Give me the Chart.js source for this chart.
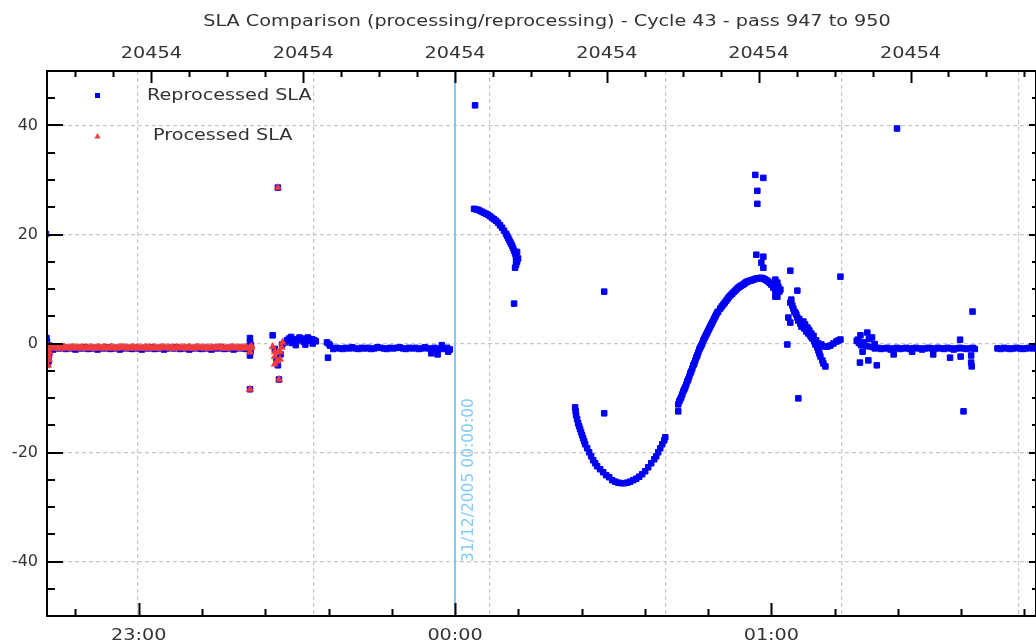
<!DOCTYPE html>
<html>
<head>
<meta charset="utf-8">
<script src="https://cdn.jsdelivr.net/npm/chart.js@4.4.1/dist/chart.umd.min.js"></script>
<style>
html,body{margin:0;padding:0;background:#fff;overflow:hidden}
canvas{display:block}
</style>
</head>
<body>
<canvas id="c" width="1036" height="644"></canvas>
<script>
// ---------- axis definitions (minutes relative to 31/12/2005 00:00) ----------
const X_MIN = -77.4, X_MAX = 110.2;
const Y_MIN = -50, Y_MAX = 50;
const bottomTickMinutes = [-60, 0, 60];
const bottomTickLabels = ['23:00', '00:00', '01:00'];
const bottomMinorTicks = [-72, -48, -36, -24, -12, 12, 24, 36, 48, 72, 84, 96, 108];
const topTickMinutes = [-57.6, -28.8, 0, 28.8, 57.6, 86.4];
const topTickLabels = ['20454', '20454', '20454', '20454', '20454', '20454'];
const topMinorTicks = [-72, -64.8, -50.4, -43.2, -36, -21.6, -14.4, -7.2, 7.2, 14.4, 21.6, 36, 43.2, 50.4, 64.8, 72, 79.2, 93.6, 100.8, 108];
const gridMinutes = [-60.2, -26.8, 6.6, 39.9, 73.3, 106.9];
const yTickValues = [-40, -20, 0, 20, 40];
const yMinorTicks = [-45, -35, -30, -25, -15, -10, -5, 5, 10, 15, 25, 30, 35, 45];
const markerTime = 0;
const markerLabel = '31/12/2005 00:00:00';
const chartTitle = 'SLA Comparison (processing/reprocessing) - Cycle 43 - pass 947 to 950';

// ---------- data: segment A (both series) ----------
const timeA = [-76.8, -76.2, -75.6, -75.0, -74.4, -73.8, -73.2, -72.6, -72.0, -71.4, -70.8, -70.2, -69.6, -69.0, -68.4, -67.8, -67.2, -66.6, -66.0, -65.4, -64.8, -64.2, -63.6, -63.0, -62.4, -61.8, -61.2, -60.6, -60.0, -59.4, -58.8, -58.2, -57.6, -57.0, -56.4, -55.8, -55.2, -54.6, -54.0, -53.4, -52.8, -52.2, -51.6, -51.0, -50.4, -49.8, -49.2, -48.6, -48.0, -47.4, -46.8, -46.2, -45.6, -45.0, -44.4, -43.8, -43.2, -42.6, -42.0, -41.4, -40.8, -40.2, -39.6, -39.0];
const procA = [-0.8, -0.7, -0.9, -0.8, -0.7, -0.8, -0.9, -0.7, -0.8, -0.8,
  -0.7, -0.9, -0.8, -0.7, -0.8, -0.8, -0.9, -0.7, -0.8, -0.7,
  -0.8, -0.9, -0.8, -0.7, -0.8, -0.8, -0.7, -0.9, -0.8, -0.8,
  -0.7, -0.8, -0.9, -0.7, -0.8, -0.8, -0.7, -0.8, -0.9, -0.8,
  -0.7, -0.8, -0.8, -0.9, -0.7, -0.8, -0.8, -0.7, -0.8, -0.9,
  -0.8, -0.7, -0.8, -0.8, -0.7, -0.9, -0.8, -0.8, -0.7, -0.8,
  -0.9, -0.8, -0.7, -0.8];
const timeA2 = [-76.5, -75.9, -75.3, -74.7, -74.1, -73.5, -72.9, -72.3, -71.7, -71.1, -70.5, -69.9, -69.3, -68.7, -68.1, -67.5, -66.9, -66.3, -65.7, -65.1, -64.5, -63.9, -63.3, -62.7, -62.1, -61.5, -60.9, -60.3, -59.7, -59.1, -58.5, -57.9, -57.3, -56.7, -56.1, -55.5, -54.9, -54.3, -53.7, -53.1, -52.5, -51.9, -51.3, -50.7, -50.1, -49.5, -48.9, -48.3, -47.7, -47.1, -46.5, -45.9, -45.3, -44.7, -44.1, -43.5, -42.9, -42.3, -41.7, -41.1, -40.5, -39.9, -39.3, -38.7];
const procA2 = [-0.7, -0.8, -0.8, -0.9, -0.7, -0.8, -0.8, -0.7, -0.9, -0.8,
  -0.8, -0.7, -0.8, -0.9, -0.8, -0.7, -0.8, -0.8, -0.9, -0.7,
  -0.8, -0.8, -0.7, -0.8, -0.9, -0.8, -0.8, -0.7, -0.8, -0.9,
  -0.8, -0.7, -0.8, -0.8, -0.9, -0.7, -0.8, -0.8, -0.7, -0.9,
  -0.8, -0.8, -0.7, -0.8, -0.8, -0.9, -0.7, -0.8, -0.8, -0.7,
  -0.9, -0.8, -0.8, -0.7, -0.8, -0.8, -0.9, -0.7, -0.8, -0.8,
  -0.7, -0.8, -0.9, -0.8];
const reprocA = [-0.9, -1.1, -0.8, -0.9, -0.7, -1.0, -0.8, -0.9, -1.1, -0.8,
  -0.9, -0.7, -1.0, -0.9, -0.8, -1.1, -0.8, -0.9, -0.7, -1.0,
  -0.9, -0.8, -1.1, -0.9, -0.8, -0.9, -1.0, -0.8, -0.9, -1.1,
  -0.8, -0.9, -0.7, -1.0, -0.9, -0.8, -1.1, -0.9, -0.8, -0.9,
  -0.7, -1.0, -0.9, -0.8, -1.1, -0.9, -0.8, -0.9, -1.0, -0.8,
  -0.9, -1.1, -0.8, -0.9, -0.7, -1.0, -0.9, -0.8, -1.1, -0.9,
  -0.8, -0.9, -1.0, -0.8];

// processed SLA: scattered points
const procExtraTime = [-77.6, -77.3, -77.2, -77.1, -77.0, -77.2, -76.9, -38.9, -38.7, -38.6, -38.9, -34.6, -34.2, -34.2, -33.8, -34.2, -33.2, -33.2, -32.9, -32.7, -33.6, -33.6, -33.4];
const procExtraSLA = [20.1, -0.3, -1.2, -2.2, -3.0, -4.0, -1.6, -1.6, -0.8, -0.5, -8.4, -0.6, -1.5, -2.4, -3.3, -3.8, -2.9, -1.5, -0.7, 0.2, -1.6, 28.6, -6.6];

// reprocessed SLA: scattered points before the gap
const reprocScatterTime = [-77.6, -77.5, -77.4, -77.3, -77.2, -77.1, -77.0, -76.9, -77.3, -38.9, -38.9, -38.8, -38.9, -38.7, -38.9, -34.6, -34.2, -33.9, -33.6, -33.4, -33.6, -33.1, -32.8];
const reprocScatterSLA = [20.1, 1.0, 0.3, -1.5, -2.6, -3.3, -2.0, -0.4, -3.8, 1.0, 0.2, -1.5, -2.2, -0.3, -8.4, 1.5, -1.0, -2.8, 28.6, -6.6, -4.0, -2.0, -0.2];

// segment B
const timeB = [-32.3, -31.9, -31.5, -31.1, -30.7, -30.3, -29.9, -29.5, -29.1, -28.7, -28.3, -27.9, -27.5, -27.1, -26.7, -26.4, -30.2, -28.4, -27.0, -31.0];
const reprocB = [0.2, 0.6, 0.9, 1.2, 0.7, 0.4, 0.8, 1.1, 0.6, 0.3, 0.9, 1.1, 0.5, 0.8, 0.6, 0.4, -0.3, -0.2, 0.0, 0.1];

// segment C
const timeC = [-24.3, -23.7, -23.1, -22.5, -21.9, -21.3, -20.7, -20.1, -19.5, -18.9, -18.3, -17.7, -17.1, -16.5, -15.9, -15.3, -14.7, -14.1, -13.5, -12.9, -12.3, -11.7, -11.1, -10.5, -9.9, -9.3, -8.7, -8.1, -7.5, -6.9, -6.3, -5.7, -5.1, -4.5, -3.9, -3.3, -2.7, -2.1, -1.5, -1.0, -24.1, -23.9, -4.5, -3.3, -1.3, -2.5];
const reprocC = [0.2, -0.4, -1.0, -0.8, -0.9, -1.0, -0.8, -0.9, -0.7, -0.9,
  -1.0, -0.8, -0.9, -0.8, -1.0, -0.9, -0.7, -0.8, -0.9, -1.0,
  -0.8, -0.9, -0.8, -0.7, -0.9, -1.0, -0.8, -0.9, -0.8, -1.0,
  -0.9, -0.7, -0.9, -1.1, -0.8, -1.2, -0.9, -1.0, -0.8, -1.1,
  -2.6, -0.1, -1.8, -2.0, -1.5, -0.3];

// segment D (descending arc after 00:00)
const timeD = [3.61, 3.99, 4.37, 4.75, 5.13, 5.51, 5.89, 6.27, 6.65, 7.02, 7.40, 7.78, 8.16, 8.54, 8.92, 9.30, 9.68, 9.87, 10.06, 10.25, 10.44, 10.63, 10.82, 11.01, 11.20, 11.39, 11.58, 11.58, 11.77, 11.58, 11.39, 11.77, 11.96];
const reprocD = [24.71, 24.62, 24.53, 24.35, 24.16, 23.98, 23.80, 23.61, 23.34, 23.06, 22.79, 22.52, 22.15, 21.69, 21.24, 20.69, 20.14, 19.77, 19.40, 19.04, 18.67, 18.31, 17.94, 17.48, 17.03, 16.48, 15.93, 15.38, 15.01, 14.46, 13.91, 16.8, 15.6];

// segment E (trough)
const timeE = [22.78, 22.88, 22.97, 23.16, 23.35, 23.54, 23.73, 23.92, 24.11, 24.30, 24.49, 24.68, 25.06, 25.44, 25.82, 26.20, 26.58, 26.96, 27.53, 28.10, 28.67, 29.24, 29.81, 30.38, 30.95, 31.52, 32.09, 32.66, 33.23, 33.80, 34.37, 34.93, 35.50, 36.07, 36.64, 37.21, 37.78, 38.16, 38.54, 38.92, 39.30, 39.68, 39.87];
const reprocE = [-11.72, -12.45, -13.18, -13.91, -14.65, -15.19, -15.74, -16.29, -16.84, -17.39, -17.94, -18.49, -19.22, -19.95, -20.69, -21.42, -21.97, -22.52, -23.07, -23.62, -24.16, -24.53, -25.08, -25.35, -25.54, -25.63, -25.63, -25.54, -25.35, -25.08, -24.81, -24.44, -23.98, -23.43, -22.70, -21.97, -21.24, -20.69, -19.95, -19.22, -18.49, -17.76, -17.21];

// segment F (rise and fall)
const timeF = [42.34, 42.34, 42.53, 42.72, 42.91, 43.10, 43.29, 43.48, 43.67, 43.86, 44.05, 44.24, 44.43, 44.62, 44.81, 45.00, 45.19, 45.38, 45.57, 45.76, 45.95, 46.14, 46.33, 46.52, 46.71, 46.90, 47.09, 47.28, 47.47, 47.66, 47.85, 48.03, 48.22, 48.41, 48.60, 48.79, 48.98, 49.17, 49.36, 49.55, 49.74, 49.93, 50.31, 50.60, 50.88, 51.16, 51.45, 51.73, 52.02, 52.30, 52.59, 52.87, 53.16, 53.44, 53.73, 54.00, 54.30, 54.60, 54.87, 55.15, 55.44, 55.70, 56.01, 56.30, 56.58, 56.87, 57.15, 57.44, 57.72, 58.00, 58.29, 58.57, 58.86, 59.15, 59.43, 59.72, 60.00, 60.38, 60.76, 60.95, 61.14, 60.76, 61.14, 61.33, 61.52, 61.71, 60.76,
  63.60, 63.79, 63.98, 64.17, 64.36, 64.55, 64.74, 64.93, 65.12, 65.30, 65.50, 65.70, 65.88, 66.07, 66.26, 66.40, 66.64, 66.83, 67.00, 67.02, 67.21, 67.40, 67.59, 67.60, 67.78, 68.00, 68.16, 68.35, 68.50, 68.73, 68.92, 69.11, 69.30, 69.68, 69.87, 70.25, 68.92, 69.49, 70.06, 70.63, 71.20, 71.77, 72.34, 72.72, 73.10];
const reprocF = [-12.45, -11.17, -10.62, -10.25, -9.89, -9.34, -8.79, -8.42, -8.05, -7.51, -6.96, -6.59, -6.04, -5.49, -5.13, -4.58, -4.03, -3.66, -3.11, -2.56, -2.20, -1.65, -1.10, -0.73, -0.37, 0.00, 0.55, 0.92, 1.28, 1.65, 2.01, 2.38, 2.75, 3.11, 3.48, 3.84, 4.21, 4.58, 4.94, 5.31, 5.68, 5.86, 6.41, 6.80, 7.14, 7.50, 7.87, 8.25, 8.60, 8.90, 9.15, 9.45, 9.70, 10.00, 10.25, 10.45, 10.62, 10.80, 10.98, 11.20, 11.35, 11.45, 11.53, 11.62, 11.72, 11.82, 11.90, 11.95, 11.99, 12.05, 11.99, 11.88, 11.72, 11.55, 11.35, 11.10, 10.80, 10.25, 9.70, 9.15, 8.60, 11.72, 11.17, 10.43, 9.52, 9.89, 8.60,
  7.51, 8.05, 6.96, 6.41, 5.86, 5.68, 5.31, 4.76, 4.21, 4.50, 3.66, 3.10, 3.30, 4.03, 2.75, 3.50, 2.20, 2.93, 2.60, 1.83, 2.38, 1.46, 1.83, 1.20, 0.92, 1.40, 0.37, -0.18, 0.60, -0.73, -1.28, -1.83, -2.38, -3.11, -3.66, -4.21, 0.00, -0.18, -0.55, -0.55, -0.37, 0.00, 0.37, 0.55, 0.73];

// segment G and H (after 01:15)
const timeG = [76.2, 76.6, 77.0, 77.5, 78.0, 78.5, 79.0, 79.6, 80.2, 80.8, 81.4, 82.0, 82.6, 83.2, 83.8, 84.4, 85.0, 85.6, 86.2, 86.8, 87.4, 88.0, 88.6, 89.2, 89.8, 90.4, 91.0, 91.6, 92.2, 92.8, 93.4, 94.0, 94.6, 95.2, 95.8, 96.4, 97.0, 97.6, 98.2, 98.6];
const reprocG = [0.5, 0.1, -0.3, 0.2, -0.5, 0.8, -0.6, -0.9, -0.8, -1.0,
  -0.9, -0.8, -1.1, -0.9, -0.8, -1.0, -0.9, -0.8, -1.0, -0.9,
  -0.8, -0.9, -1.1, -0.9, -0.8, -0.9, -1.0, -0.8, -0.9, -1.0,
  -0.8, -0.9, -1.1, -0.9, -0.8, -0.9, -1.0, -0.9, -0.8, -1.0];
const timeGs = [76.4, 76.8, 78.2, 78.4, 79.1, 79.6, 80.0, 83.2, 86.7, 90.7, 93.9, 95.8, 95.9, 97.9, 97.9, 98.0, 77.3, 76.9];
const reprocGs = [0.7, -3.5, 2.0, -3.1, 1.1, -0.1, -4.0, -2.0, -1.5, -2.0, -2.6, 0.7, -2.4, -2.2, -3.5, -4.2, -1.5, 1.5];
const timeH = [102.9, 103.5, 104.1, 104.7, 105.3, 105.9, 106.5, 107.1, 107.7, 108.3, 108.9, 109.5, 110.1];
const reprocH = [-0.9, -1.0, -0.8, -0.9, -1.0, -0.9, -0.8, -0.9, -1.0, -0.9, -0.8, -0.9, -0.7];

// isolated outliers of the reprocessed series
const outlierTime = [3.8, 11.2, 28.29, 28.29, 56.96, 58.48, 57.34, 57.34, 57.15, 58.48, 58.10, 58.48, 63.60, 64.93, 63.22, 63.60, 63.03, 65.12, 73.10, 83.84, 96.45, 98.16];
const outlierSLA = [43.7, 7.32, 9.52, -12.81, 30.94, 30.39, 28.01, 25.63, 16.29, 15.93, 14.83, 13.91, 13.36, 9.70, 4.76, 3.84, -0.18, -10.07, 12.27, 39.45, -12.45, 5.86];

// ---------- build datasets ----------
function pts(t, v) { return t.map((x, i) => ({ x: x, y: v[i] })); }
const reprocessedPoints = [].concat(
  pts(timeA, reprocA), pts(reprocScatterTime, reprocScatterSLA), pts(timeB, reprocB),
  pts(timeC, reprocC), pts(timeD, reprocD), pts(timeE, reprocE), pts(timeF, reprocF),
  pts(timeG, reprocG), pts(timeGs, reprocGs), pts(timeH, reprocH), pts(outlierTime, outlierSLA));
const processedPoints = [].concat(pts(timeA, procA), pts(timeA2, procA2), pts(procExtraTime, procExtraSLA));

const BLUE = '#0000f5';
const RED = '#ee3b3b';
const LINE_BLUE = '#82cbf7';
const STRETCH = 1.2;
const WIDE = "'DejaVu Sans', 'Liberation Sans'";   // text drawn horizontally widened
const PLAIN = "'DejaVu Sans'";

// widen horizontally text drawn with the WIDE family (original chart uses a wide face)
const stretchPlugin = {
  id: 'stretchText',
  beforeDraw(chart) {
    const ctx = chart.ctx;
    if (ctx.__patched) return;
    const orig = ctx.fillText;
    ctx.fillText = function (text, x, y, maxW) {
      if (this.font.indexOf('Liberation') === -1) {
        return maxW === undefined ? orig.call(this, text, x, y) : orig.call(this, text, x, y, maxW);
      }
      this.save();
      this.translate(x, y);
      this.scale(STRETCH, 1);
      orig.call(this, text, 0, 0);
      this.restore();
    };
    ctx.__patched = true;
  }
};

const decorPlugin = {
  id: 'decor',
  beforeDatasetsDraw(chart) {
    const { ctx, chartArea: a, scales } = chart;
    const x0 = Math.round(scales.x.getPixelForValue(markerTime));
    ctx.save();
    ctx.strokeStyle = LINE_BLUE;
    ctx.lineWidth = 2;
    ctx.beginPath();
    ctx.moveTo(x0, a.top); ctx.lineTo(x0, a.bottom);
    ctx.stroke();
    ctx.translate(x0 + 14, a.bottom - 54);
    ctx.rotate(-Math.PI / 2);
    ctx.fillStyle = LINE_BLUE;
    ctx.font = "15.5px " + PLAIN;
    ctx.textAlign = 'left';
    ctx.textBaseline = 'middle';
    ctx.fillText(markerLabel, 0, 0);
    ctx.restore();
  },
  afterDatasetsDraw(chart) {
    const { ctx, chartArea: a, scales } = chart;
    const xs = scales.x, ys = scales.y;
    ctx.save();
    ctx.strokeStyle = '#000';
    ctx.lineWidth = 2;
    ctx.lineCap = 'butt';
    // frame
    ctx.beginPath();
    ctx.moveTo(a.left, a.top); ctx.lineTo(a.left, a.bottom);
    ctx.moveTo(a.left - 1, a.bottom); ctx.lineTo(a.right, a.bottom);
    ctx.moveTo(a.left - 1, a.top); ctx.lineTo(a.right, a.top);
    ctx.moveTo(a.right, a.top); ctx.lineTo(a.right, a.bottom);
    ctx.stroke();
    function vTick(v, y, len) {
      const p = Math.round(xs.getPixelForValue(v)) + 0.5;
      ctx.moveTo(p, y); ctx.lineTo(p, y + len);
    }
    function hTick(v, x, len) {
      const p = Math.round(ys.getPixelForValue(v));
      ctx.moveTo(x, p); ctx.lineTo(x + len, p);
    }
    ctx.beginPath();
    bottomTickMinutes.forEach(v => vTick(v, a.bottom, -13));
    bottomMinorTicks.forEach(v => vTick(v, a.bottom, -7));
    topTickMinutes.forEach(v => vTick(v, a.top, 12));
    topMinorTicks.forEach(v => vTick(v, a.top, 6));
    yTickValues.forEach(v => hTick(v, a.left, 16));
    yMinorTicks.forEach(v => hTick(v, a.left, 8));
    yTickValues.forEach(v => hTick(v, a.right, -7));
    yMinorTicks.forEach(v => hTick(v, a.right, -4));
    ctx.stroke();

    // legend (inside plot, top-left)
    const ds = chart.data.datasets;
    ctx.fillStyle = BLUE;
    ctx.fillRect(95, 93, 5, 5);
    ctx.fillStyle = RED;
    ctx.beginPath();
    ctx.moveTo(97.5, 133); ctx.lineTo(100.5, 138.5); ctx.lineTo(94.5, 138.5); ctx.closePath();
    ctx.fill();
    ctx.fillStyle = '#333';
    ctx.font = "16px " + WIDE;
    ctx.textAlign = 'left';
    ctx.textBaseline = 'middle';
    ctx.fillText(ds[0].label, 147, 96);
    ctx.fillText(ds[1].label, 153, 136);

    // title
    ctx.textAlign = 'center';
    ctx.textBaseline = 'alphabetic';
    ctx.fillStyle = '#333';
    ctx.fillText(chartTitle, 547, 26);
    ctx.restore();
  }
};

new Chart(document.getElementById('c'), {
  type: 'scatter',
  data: {
    datasets: [
      { label: 'Reprocessed SLA', data: reprocessedPoints, pointStyle: 'rect', pointRadius: 3.9,
        pointBackgroundColor: BLUE, pointBorderColor: BLUE, pointBorderWidth: 1, order: 2 },
      { label: 'Processed SLA', data: processedPoints, pointStyle: 'triangle', pointRadius: 4.2,
        pointBackgroundColor: RED, pointBorderColor: RED, pointBorderWidth: 0.5, order: 1 }
    ]
  },
  options: {
    responsive: false,
    animation: false,
    devicePixelRatio: 1,
    layout: { padding: 0, autoPadding: false },
    plugins: { legend: { display: false }, tooltip: { enabled: false }, title: { display: false } },
    events: [],
    scales: {
      x: {
        type: 'linear', position: 'bottom', min: X_MIN, max: X_MAX,
        afterBuildTicks: s => { s.ticks = bottomTickMinutes.map(v => ({ value: v })); },
        ticks: {
          autoSkip: false, maxRotation: 0, padding: 10, color: '#333',
          font: { family: WIDE, size: 16 },
          callback: v => { const i = bottomTickMinutes.indexOf(v); return i >= 0 ? bottomTickLabels[i] : ''; }
        },
        grid: { display: false, drawTicks: false },
        border: { display: false },
        afterFit: s => { s.height = 28; }
      },
      xTop: {
        type: 'linear', axis: 'x', position: 'top', min: X_MIN, max: X_MAX,
        afterBuildTicks: s => { s.ticks = topTickMinutes.map(v => ({ value: v })); },
        ticks: {
          autoSkip: false, maxRotation: 0, padding: 8, color: '#333',
          font: { family: WIDE, size: 16 },
          callback: (v, i) => topTickLabels[i]
        },
        grid: { display: false, drawTicks: false },
        border: { display: false },
        afterFit: s => { s.height = 71; }
      },
      xGrid: {
        type: 'linear', axis: 'x', position: 'bottom', min: X_MIN, max: X_MAX,
        afterBuildTicks: s => { s.ticks = gridMinutes.map(v => ({ value: v })); },
        ticks: { display: false },
        grid: { color: '#c8c8c8', lineWidth: 1.2, drawTicks: false },
        border: { display: false, dash: [4, 3] },
        afterFit: s => { s.height = 0; }
      },
      y: {
        type: 'linear', position: 'left', min: Y_MIN, max: Y_MAX,
        afterBuildTicks: s => { s.ticks = yTickValues.map(v => ({ value: v })); },
        ticks: { padding: 9, color: '#333', font: { family: PLAIN, size: 16 } },
        grid: { color: '#c8c8c8', lineWidth: 1.2, drawTicks: false },
        border: { display: false, dash: [4, 3] },
        afterFit: s => { s.width = 47; }
      }
    }
  },
  plugins: [stretchPlugin, decorPlugin]
});
</script>
</body>
</html>
